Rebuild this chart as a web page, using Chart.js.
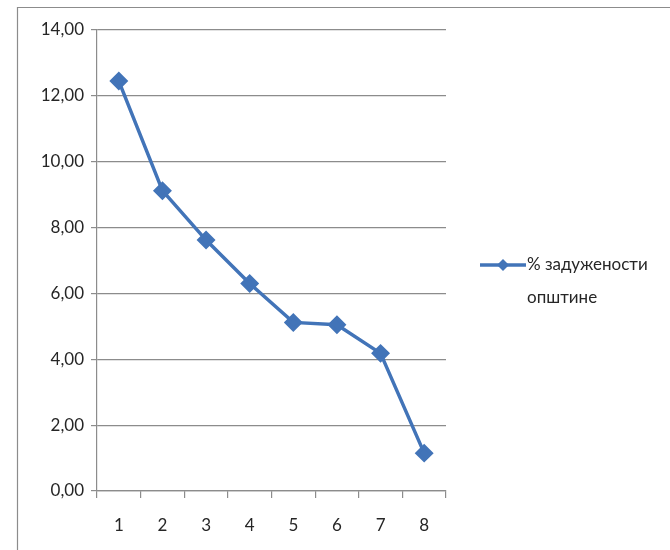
<!DOCTYPE html>
<html><head><meta charset="utf-8">
<script src="https://cdn.jsdelivr.net/npm/chart.js@4"></script>
<style>html,body{margin:0;padding:0;background:#fff}#wrap{width:670px;height:550px;position:relative}</style>
</head><body><div id="wrap"><canvas id="c" width="670" height="550"></canvas></div>
<script>
const categories = ['1','2','3','4','5','6','7','8'];
const values = [12.45, 9.12, 7.62, 6.30, 5.12, 5.05, 4.18, 1.15];
const seriesName = ['% задужености', 'општине'];
const yTicks = [0, 2, 4, 6, 8, 10, 12, 14];
const color = '#4274b8';
const font = 'Lato, "Open Sans", sans-serif';

const frame = {
  id: 'frame',
  beforeDraw(chart) {
    const ctx = chart.ctx;
    ctx.save();
    ctx.strokeStyle = '#8c8c8c';
    ctx.lineWidth = 1.2;
    ctx.beginPath();
    ctx.moveTo(17.5, 550); ctx.lineTo(17.5, 7.5); ctx.lineTo(670, 7.5);
    ctx.stroke();
    ctx.restore();
  },
  afterDraw(chart) {
    const ctx = chart.ctx;
    ctx.save();
    const y = 265;
    ctx.strokeStyle = color; ctx.lineWidth = 3.5;
    ctx.beginPath(); ctx.moveTo(480, y); ctx.lineTo(526, y); ctx.stroke();
    ctx.fillStyle = color;
    ctx.beginPath(); ctx.moveTo(503, y - 6); ctx.lineTo(509, y); ctx.lineTo(503, y + 6); ctx.lineTo(497, y); ctx.closePath(); ctx.fill();
    ctx.fillStyle = '#262626';
    ctx.font = '17px ' + font;
    ctx.textBaseline = 'middle';
    ctx.fillText(seriesName[0], 527, y);
    ctx.fillText(seriesName[1], 527, y + 33);
    ctx.restore();
  }
};

new Chart(document.getElementById('c'), {
  type: 'line',
  data: {
    labels: categories,
    datasets: [{
      label: seriesName.join(' '),
      data: values,
      borderColor: color,
      backgroundColor: color,
      borderWidth: 3.5,
      pointStyle: 'rectRot',
      pointRadius: 7,
      pointHoverRadius: 7,
      tension: 0
    }]
  },
  options: {
    responsive: false,
    animation: false,
    layout: { padding: { top: 30, right: 224, left: 0, bottom: 0 } },
    plugins: { legend: { display: false }, tooltip: { enabled: false } },
    scales: {
      x: {
        offset: true,
        grid: { offset: true, drawOnChartArea: false, color: '#8c8c8c', tickLength: 7, lineWidth: 1.2 },
        border: { color: '#8c8c8c', width: 1.2 },
        ticks: { color: '#262626', font: { family: font, size: 17 }, padding: 17 },
        afterFit(s) { s.height = 59; }
      },
      y: {
        min: 0, max: 14,
        afterBuildTicks(s) { s.ticks = yTicks.map(v => ({ value: v })); },
        grid: { color: '#8c8c8c', tickLength: 6, lineWidth: 1.2 },
        border: { color: '#8c8c8c', width: 1.2 },
        ticks: {
          color: '#262626', font: { family: font, size: 17 }, padding: 7,
          callback: v => v.toFixed(2).replace('.', ',')
        },
        afterFit(s) { s.width = 97; }
      }
    }
  },
  plugins: [frame]
});
</script></body></html>
